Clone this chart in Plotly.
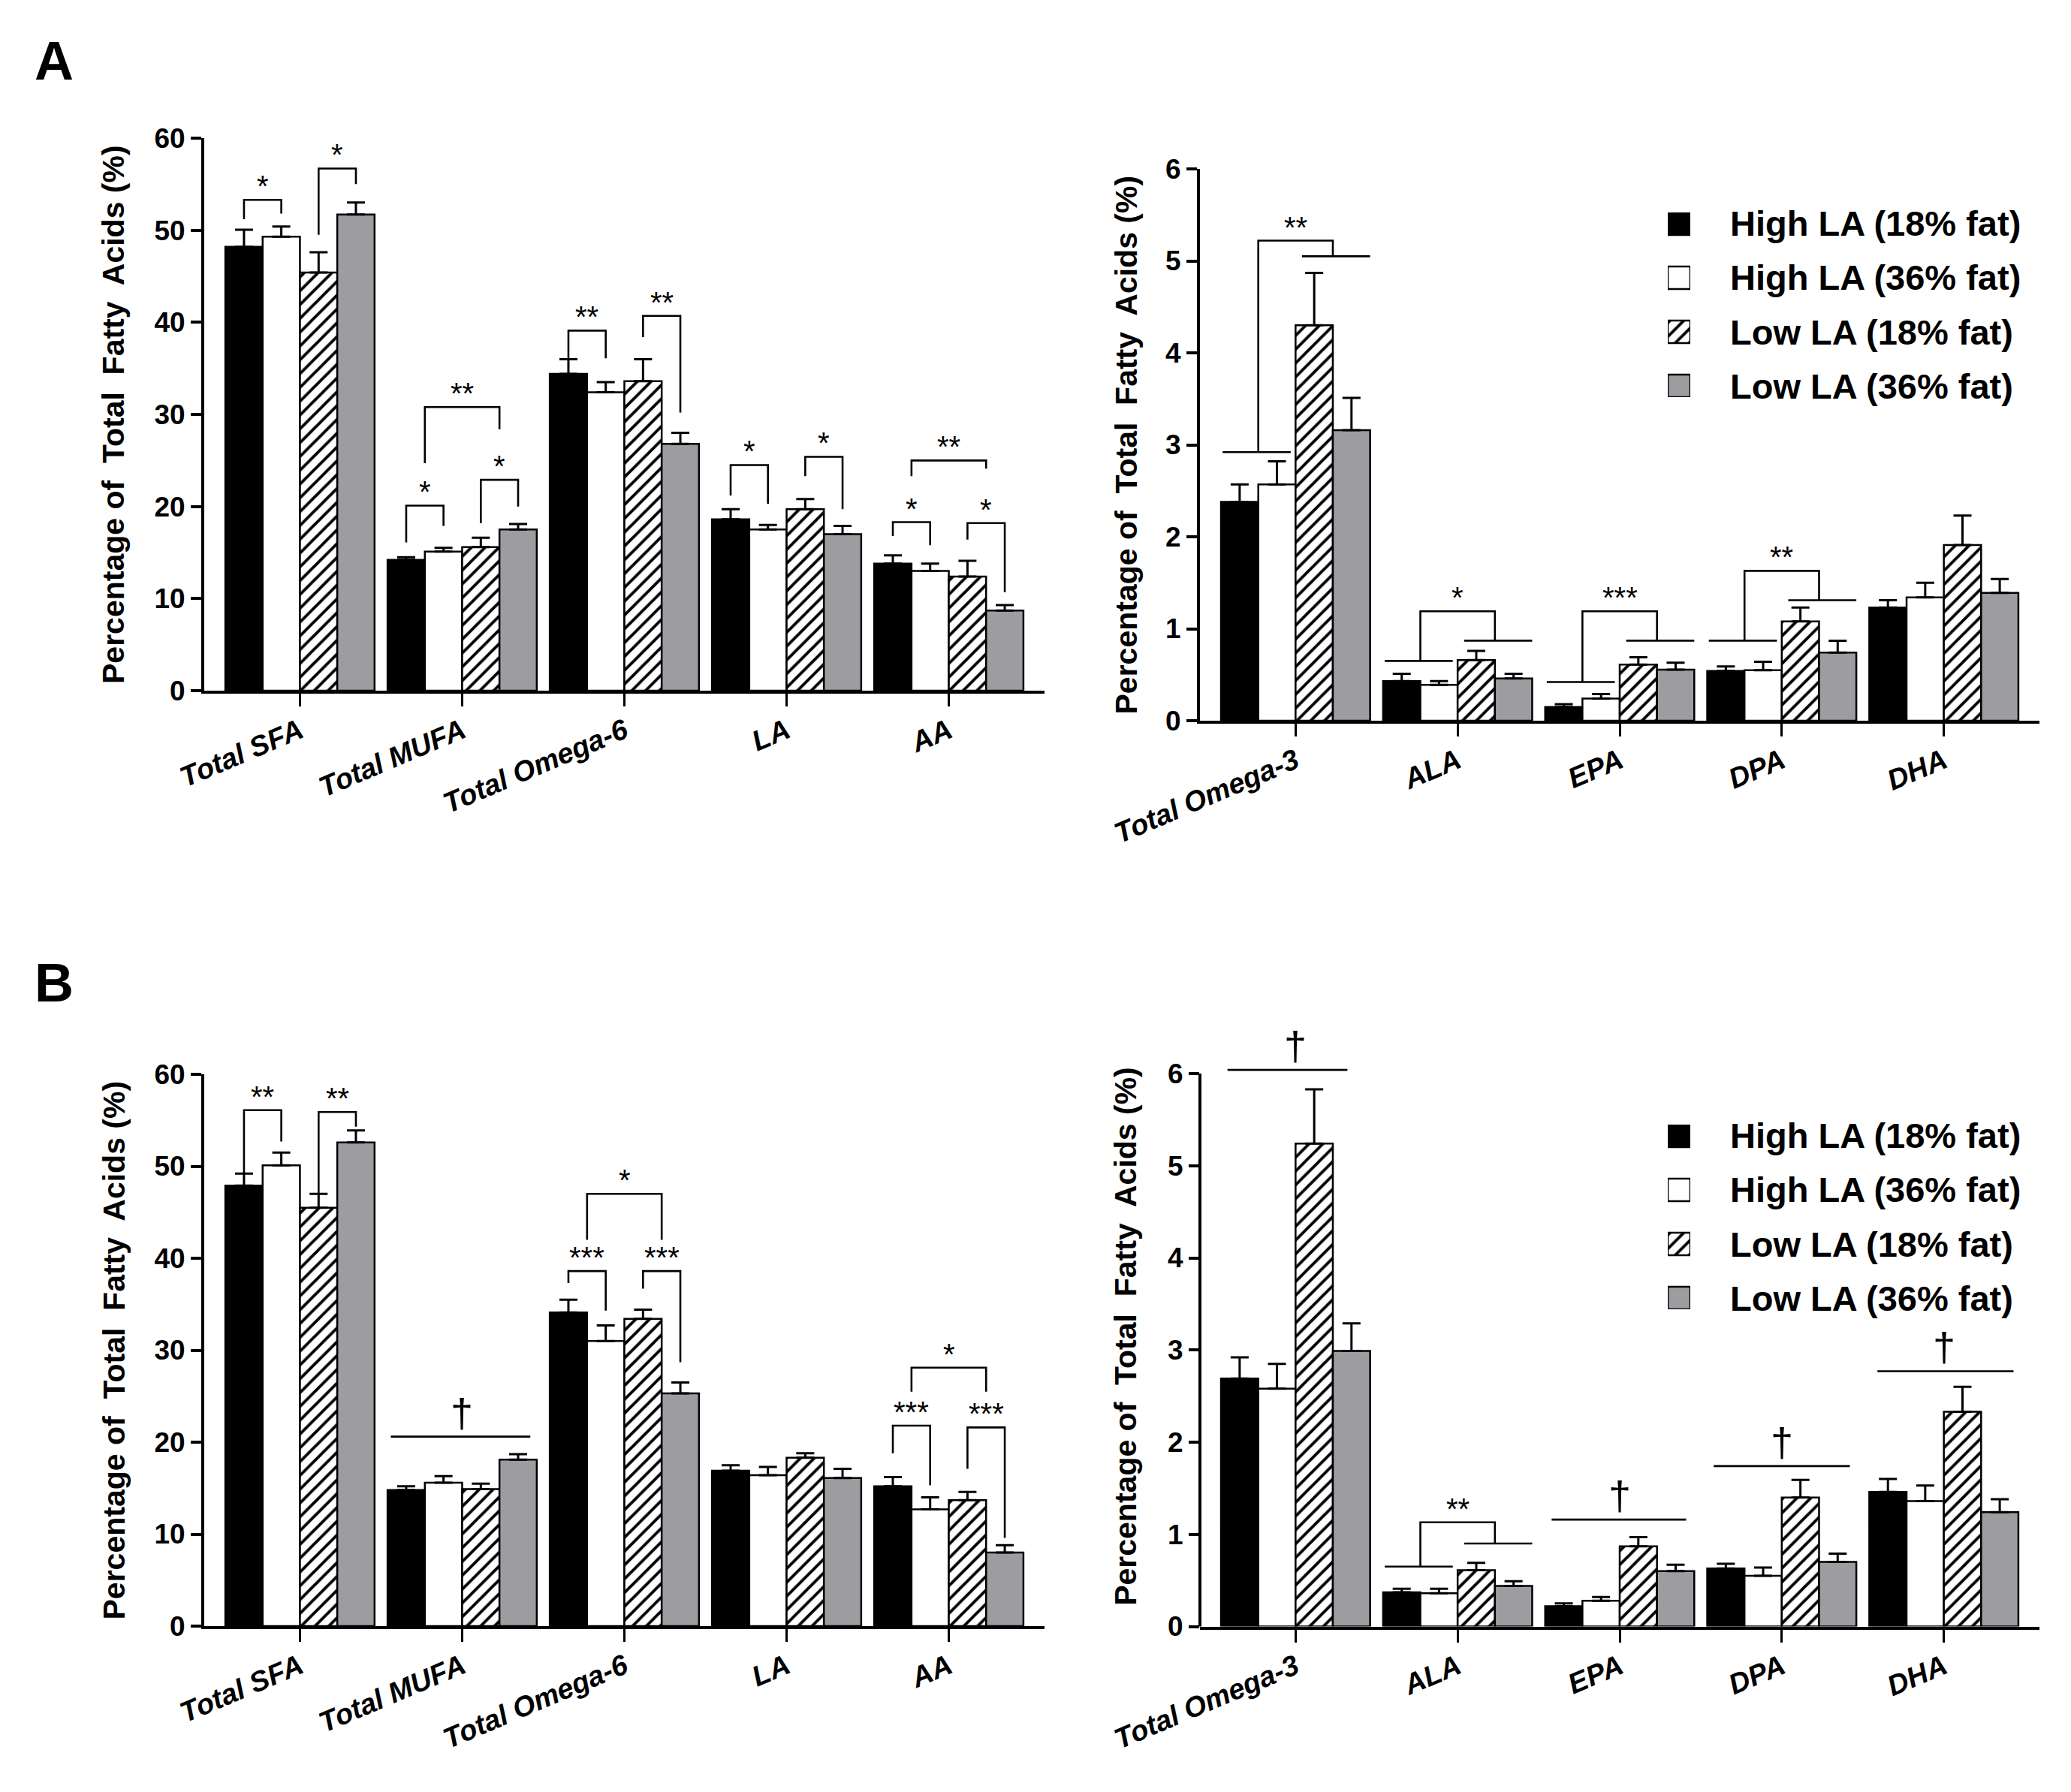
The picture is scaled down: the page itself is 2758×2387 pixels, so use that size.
import plotly.graph_objects as go

# ---------------- data ----------------
GROUPS = ["High LA (18% fat)", "High LA (36% fat)", "Low LA (18% fat)", "Low LA (36% fat)"]
CATS_LEFT = ["Total SFA", "Total MUFA", "Total Omega-6", "LA", "AA"]
CATS_RIGHT = ["Total Omega-3", "ALA", "EPA", "DPA", "DHA"]
Y_TICKS_LEFT = [0, 10, 20, 30, 40, 50, 60]
Y_TICKS_RIGHT = [0, 1, 2, 3, 4, 5, 6]
Y_TITLE = "Percentage of\u00a0 Total\u00a0 Fatty\u00a0 Acids (%)"

# Panel A (rows = groups, columns = categories)
A_LEFT_MEAN = [
    [48.2, 14.2, 34.4, 18.6, 13.8],
    [49.3, 15.1, 32.4, 17.5, 13.0],
    [45.4, 15.6, 33.6, 19.7, 12.4],
    [51.7, 17.5, 26.8, 17.0, 8.7],
]
A_LEFT_SEM = [
    [1.85, 0.3, 1.6, 1.1, 0.9],
    [1.1, 0.4, 1.1, 0.5, 0.8],
    [2.2, 1.0, 2.4, 1.1, 1.7],
    [1.3, 0.6, 1.2, 0.9, 0.6],
]
A_RIGHT_MEAN = [
    [2.38, 0.43, 0.15, 0.54, 1.23],
    [2.57, 0.39, 0.24, 0.55, 1.34],
    [4.30, 0.66, 0.61, 1.08, 1.91],
    [3.16, 0.46, 0.555, 0.74, 1.39],
]
A_RIGHT_SEM = [
    [0.19, 0.08, 0.03, 0.05, 0.08],
    [0.25, 0.04, 0.05, 0.09, 0.16],
    [0.57, 0.10, 0.08, 0.15, 0.32],
    [0.35, 0.05, 0.075, 0.13, 0.15],
]
# Panel B
B_LEFT_MEAN = [
    [47.9, 14.8, 34.1, 16.9, 15.2],
    [50.1, 15.6, 31.0, 16.4, 12.7],
    [45.5, 14.9, 33.4, 18.3, 13.7],
    [52.6, 18.1, 25.3, 16.1, 8.0],
]
B_LEFT_SEM = [
    [1.3, 0.4, 1.4, 0.6, 1.0],
    [1.4, 0.7, 1.7, 0.9, 1.3],
    [1.5, 0.6, 1.0, 0.5, 0.9],
    [1.3, 0.6, 1.2, 1.0, 0.8],
]
B_RIGHT_MEAN = [
    [2.69, 0.37, 0.22, 0.63, 1.46],
    [2.58, 0.36, 0.28, 0.55, 1.36],
    [5.24, 0.61, 0.87, 1.40, 2.33],
    [2.99, 0.44, 0.60, 0.70, 1.24],
]
B_RIGHT_SEM = [
    [0.23, 0.04, 0.03, 0.05, 0.14],
    [0.27, 0.05, 0.04, 0.09, 0.17],
    [0.59, 0.08, 0.10, 0.19, 0.27],
    [0.30, 0.05, 0.07, 0.09, 0.14],
]

# significance marks
# ("pair", cat, barA, barB, y_left_leg, y_top, y_right_leg, label)
# ("span", cat, y_left_leg, y_top, y_right_leg, label)  between pair midpoints
# ("pool", cat, y_left_line, y_top, y_right_line, label) pooled groups
# ("line", cat, y_line, label, left_extent, right_extent)
A_LEFT_SIG = [
    ("pair", 0, 0, 1, 51.2, 53.3, 51.8, "*"),
    ("pair", 0, 2, 3, 49.5, 56.7, 55.0, "*"),
    ("pair", 1, 0, 1, 16.1, 20.1, 17.9, "*"),
    ("pair", 1, 2, 3, 18.2, 22.9, 20.0, "*"),
    ("span", 1, 24.7, 30.8, 28.4, "**"),
    ("pair", 2, 0, 1, 36.1, 39.1, 36.1, "**"),
    ("pair", 2, 2, 3, 38.4, 40.7, 30.2, "**"),
    ("pair", 3, 0, 1, 21.2, 24.5, 20.3, "*"),
    ("pair", 3, 2, 3, 23.3, 25.4, 19.7, "*"),
    ("pair", 4, 0, 1, 16.8, 18.3, 15.8, "*"),
    ("pair", 4, 2, 3, 16.4, 18.2, 10.7, "*"),
    ("span", 4, 23.3, 25.0, 24.1, "**"),
]
A_RIGHT_SIG = [
    ("pool", 0, 2.92, 5.22, 5.05, "**"),
    ("pool", 1, 0.65, 1.19, 0.87, "*"),
    ("pool", 2, 0.42, 1.19, 0.87, "***"),
    ("pool", 3, 0.87, 1.63, 1.31, "**"),
]
B_LEFT_SIG = [
    ("pair", 0, 0, 1, 49.2, 56.1, 52.7, "**"),
    ("pair", 0, 2, 3, 46.9, 55.9, 54.3, "**"),
    ("line", 1, 20.6, "\u2020", 0.44, 0.42),
    ("pair", 2, 0, 1, 37.3, 38.6, 34.3, "***"),
    ("pair", 2, 2, 3, 36.7, 38.6, 28.7, "***"),
    ("span", 2, 42.0, 47.0, 42.0, "*"),
    ("pair", 4, 0, 1, 18.8, 21.8, 15.3, "***"),
    ("pair", 4, 2, 3, 17.1, 21.6, 9.6, "***"),
    ("span", 4, 25.5, 28.1, 25.5, "*"),
]
B_RIGHT_SIG = [
    ("line", 0, 6.04, "\u2020", 0.42, 0.32),
    ("pool", 1, 0.65, 1.13, 0.90, "**"),
    ("line", 2, 1.16, "\u2020", 0.42, 0.41),
    ("line", 3, 1.74, "\u2020", 0.42, 0.42),
    ("line", 4, 2.77, "\u2020", 0.41, 0.43),
]

# ---------------- style / layout ----------------
FONT = "Liberation Sans, Arial, sans-serif"
GRAY = "#9d9da1"
BARGAP = 0.08
BW = (1 - BARGAP) / 4

# the page body has an 8px margin; the figure is sized to fit inside the window
FIG_W, FIG_H, BODY = 2742, 2371, 8


def px(x):
    return (x - BODY) / FIG_W


def py(y):
    return 1 - (y - BODY) / FIG_H


def bar_marker(j):
    base = dict(line=dict(color="black", width=2.5))
    if j == 0:
        base["color"] = "black"
    elif j == 1:
        base["color"] = "white"
    elif j == 2:
        base["color"] = "white"
        base["pattern"] = dict(shape="/", fgcolor="black", bgcolor="white",
                               size=13, solidity=0.3, fillmode="replace")
    else:
        base["color"] = GRAY
    return base


def off(k):
    return (k - 1.5) * BW


XL = [px(272), px(1391)]
XR = [px(1598), px(2716)]
PANELS = [
    dict(xa="x", ya="y", cats=CATS_LEFT, mean=A_LEFT_MEAN, sem=A_LEFT_SEM, sig=A_LEFT_SIG,
         ticks=Y_TICKS_LEFT, xdom=XL, ydom=[py(920), py(184)], yr=[0, 60], tx=px(151)),
    dict(xa="x2", ya="y2", cats=CATS_RIGHT, mean=A_RIGHT_MEAN, sem=A_RIGHT_SEM, sig=A_RIGHT_SIG,
         ticks=Y_TICKS_RIGHT, xdom=XR, ydom=[py(960), py(225)], yr=[0, 6], tx=px(1499)),
    dict(xa="x3", ya="y3", cats=CATS_LEFT, mean=B_LEFT_MEAN, sem=B_LEFT_SEM, sig=B_LEFT_SIG,
         ticks=Y_TICKS_LEFT, xdom=XL, ydom=[py(2166), py(1431)], yr=[0, 60], tx=px(151)),
    dict(xa="x4", ya="y4", cats=CATS_RIGHT, mean=B_RIGHT_MEAN, sem=B_RIGHT_SEM, sig=B_RIGHT_SIG,
         ticks=Y_TICKS_RIGHT, xdom=XR, ydom=[py(2166.5), py(1393.2)], yr=[0, 6.3], tx=px(1499)),
]

STAR_FONT = dict(family=FONT, size=40, color="black")
DAG_FONT = dict(family=FONT, size=54, color="black")

fig = go.Figure()
annotations = []
shapes = []
layout_axes = {}

for i, p in enumerate(PANELS):
    n = len(p["cats"])
    xpos = list(range(n))
    for j, g in enumerate(GROUPS):
        fig.add_trace(go.Bar(
            x=xpos, y=p["mean"][j], name=g, xaxis=p["xa"], yaxis=p["ya"],
            offsetgroup="g%d" % j, showlegend=False, marker=bar_marker(j),
            error_y=dict(type="data", symmetric=False, array=p["sem"][j],
                         arrayminus=[0] * n, color="black", thickness=3, width=12),
        ))
    xs, ys = [], []
    for s in p["sig"]:
        kind = s[0]
        if kind in ("pair", "span", "pool"):
            if kind == "pair":
                _, c, a, b, yl, yt, yr_, lab = s
                x1, x2 = c + off(a), c + off(b)
            else:
                _, c, yl, yt, yr_, lab = s
                x1, x2 = c + (off(0) + off(1)) / 2, c + (off(2) + off(3)) / 2
                if kind == "pool":
                    xs += [c - 2 * BW + 0.01, c - 0.03, None, c + 0.04, c + 2 * BW, None]
                    ys += [yl, yl, None, yr_, yr_, None]
            xs += [x1, x1, x2, x2, None]
            ys += [yl, yt, yt, yr_, None]
            annotations.append(dict(x=(x1 + x2) / 2, y=yt, text=lab, xref=p["xa"], yref=p["ya"],
                                    yanchor="bottom", showarrow=False, yshift=-6,
                                    font=STAR_FONT))
        elif kind == "line":
            _, c, yl, lab, lo, hi = s
            xs += [c - lo, c + hi, None]
            ys += [yl, yl, None]
            annotations.append(dict(x=c, y=yl, text=lab, xref=p["xa"], yref=p["ya"],
                                    yanchor="bottom", showarrow=False, yshift=0,
                                    font=DAG_FONT))
    fig.add_trace(go.Scatter(x=xs, y=ys, mode="lines", xaxis=p["xa"], yaxis=p["ya"],
                             line=dict(color="black", width=2.6), showlegend=False,
                             hoverinfo="skip"))

    xkey = "xaxis" if p["xa"] == "x" else "xaxis" + p["xa"][1:]
    ykey = "yaxis" if p["ya"] == "y" else "yaxis" + p["ya"][1:]
    layout_axes[xkey] = dict(
        domain=p["xdom"], anchor=p["ya"], range=[-0.59, 4.59], automargin=False,
        tickvals=xpos, ticktext=p["cats"], tickangle=-23,
        ticks="outside", ticklen=17, tickwidth=3, tickcolor="black",
        showline=True, linewidth=4, linecolor="black", showgrid=False, zeroline=False,
        ticklabelstandoff=-4,
        tickfont=dict(family=FONT, size=38, color="black", weight="bold", style="italic"),
    )
    top_line = p["yr"][1] == p["ticks"][-1]
    layout_axes[ykey] = dict(
        domain=p["ydom"], anchor=p["xa"], range=p["yr"], tickvals=p["ticks"], automargin=False,
        ticks="outside", ticklen=14, tickwidth=3.5, tickcolor="black",
        showline=top_line, linewidth=4, linecolor="black", showgrid=False, zeroline=False,
        tickfont=dict(family=FONT, size=37, color="black", weight="bold"),
    )
    if not top_line:
        shapes.append(dict(type="line", xref=p["xa"] + " domain", yref=p["ya"] + " domain",
                           x0=0, x1=0, y0=0, y1=p["ticks"][-1] / p["yr"][1],
                           line=dict(color="black", width=4)))
    annotations.append(dict(x=p["tx"], xref="paper", y=0.5, yref=p["ya"] + " domain",
                            text=Y_TITLE, textangle=-90, showarrow=False,
                            xanchor="center", yanchor="middle",
                            font=dict(family=FONT, size=41, color="black", weight="bold")))

# legends (drawn as small swatch bars with text)
LEG = [("x5", "y5", [py(529), py(283)]), ("x6", "y6", [py(1744), py(1498)])]
for xa, ya, ydom in LEG:
    for j, g in enumerate(GROUPS):
        fig.add_trace(go.Bar(x=[1], y=[j], orientation="h", width=0.417, offsetgroup="leg",
                             xaxis=xa, yaxis=ya, showlegend=False, marker=bar_marker(j),
                             hoverinfo="skip"))
        annotations.append(dict(x=px(2302), xref="paper", y=j, yref=ya, text=g,
                                xanchor="left", yanchor="middle", showarrow=False,
                                font=dict(family=FONT, size=47, color="black", weight="bold")))
    layout_axes["xaxis" + xa[1:]] = dict(domain=[px(2221), px(2251)], range=[0, 1],
                                         visible=False, anchor=ya, automargin=False)
    layout_axes["yaxis" + ya[1:]] = dict(domain=ydom, range=[3.208, -0.208], visible=False,
                                         anchor=xa, automargin=False)

# panel letters
for letter, yy in (("A", 81), ("B", 1309)):
    annotations.append(dict(x=px(72), y=py(yy), xref="paper", yref="paper", text=letter,
                            showarrow=False, xanchor="center", yanchor="middle",
                            font=dict(family=FONT, size=72, color="black", weight="bold")))

fig.update_layout(
    width=FIG_W, height=FIG_H, autosize=False,
    margin=dict(l=0, r=0, t=0, b=0, pad=0, autoexpand=False),
    paper_bgcolor="white", plot_bgcolor="white",
    barmode="group", bargap=BARGAP, bargroupgap=0,
    annotations=annotations, shapes=shapes,
    **layout_axes,
)

fig.write_html("out.html")
